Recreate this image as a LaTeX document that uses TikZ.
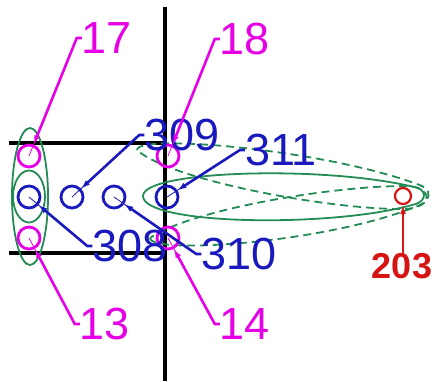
\documentclass[tikz,border=0pt]{standalone}
\usepackage{fontspec}
\setmainfont{Liberation Sans}
\usetikzlibrary{arrows.meta}
\definecolor{mag}{RGB}{230,0,230}
\definecolor{dblue}{RGB}{25,25,190}
\definecolor{leaf}{RGB}{35,140,85}
\definecolor{dred}{RGB}{215,20,20}

\begin{document}
\begin{tikzpicture}[x=1pt,y=1pt,>=Latex,
  spot/.style={draw=#1,circle,line width=2.8pt,minimum size=22pt,inner sep=0pt},
  numtxt/.style={text=#1,inner sep=0pt,font=\fontsize{45}{45}\selectfont},
  leader/.style={draw=#1,line width=2.6pt,-{Latex[length=9pt,width=6pt]}},
  leadtail/.style={draw=#1,line width=0.8pt},
  band/.style={draw=leaf,line width=1.8pt},
  wall/.style={draw=black,line width=4pt}]
\useasboundingbox (0,0) rectangle (435,381);
% black frame lines
\draw[wall] (165,374) -- (165,0);
\draw[wall] (9,238) -- (165,238);
\draw[wall] (9,128) -- (165,128);
% green groups
\draw[band] (30,184.5) ellipse [x radius=18,y radius=68.5];
\draw[band] (29,184.5) ellipse [x radius=16,y radius=26];
\draw[band] (143,185) .. controls (143,211) and (330,216) .. (418,193) .. controls (428,189) and (425,178) .. (412,176) .. controls (330,153) and (143,156) .. cycle;
\draw[band,dash pattern=on 8pt off 5pt] (137,231) .. controls (137,248) and (330,231) .. (422,195) .. controls (434,190) and (430,173) .. (405,172) .. controls (330,171) and (170,201) .. cycle;
\draw[band,dash pattern=on 8pt off 5pt] (150,143) .. controls (150,126) and (330,138) .. (420,176) .. controls (432,181) and (428,195) .. (405,195) .. controls (330,195) and (190,171) .. cycle;
% points
\node[spot=mag] (c17) at (29,225) {};
\node[spot=dblue] (c308) at (29,184) {};
\node[spot=mag] (c13) at (29,143) {};
\node[spot=dblue] (c309) at (72,184) {};
\node[spot=dblue] (c310) at (114,184) {};
\node[spot=dblue] (c311) at (167,184) {};
\node[spot=mag] (c18) at (168,225) {};
\node[spot=mag] (c14) at (168,143) {};
\node[draw=dred,circle,line width=2.2pt,minimum size=16pt,inner sep=0pt] (c203) at (403,185) {};
% labels
\node[numtxt=mag] (l17) at (107,343) {17};
\node[numtxt=mag] (l18) at (245,342) {18};
\node[numtxt=dblue] (l309) at (182,246) {309};
\node[numtxt=dblue] (l311) at (281,231) {311};
\node[numtxt=dblue] (l308) at (130,135) {308};
\node[numtxt=dblue] (l310) at (239,127) {310};
\node[numtxt=mag] (l13) at (105,57) {13};
\node[numtxt=mag] (l14) at (245,57) {14};
\node[text=dred,inner sep=0pt,font=\fontsize{36}{36}\selectfont\bfseries] (l203) at (402,115) {203};
% leaders
\draw[leader=mag] (l17.west) -- ++(-5,0) coordinate (h17) -- (c17);
\draw[leadtail=mag] (h17) -- (c17.center);
\draw[leader=mag] (l18.west) -- ++(-5,0) coordinate (h18) -- (c18);
\draw[leadtail=mag] (h18) -- (c18.center);
\draw[leader=mag] (l13.west) -- ++(-5,0) coordinate (h13) -- (c13);
\draw[leadtail=mag] (h13) -- (c13.center);
\draw[leader=mag] (l14.west) -- ++(-5,0) coordinate (h14) -- (c14);
\draw[leadtail=mag] (h14) -- (c14.center);
\draw[leader=dblue] (l309.west) -- ++(-5,0) coordinate (h309) -- (c309);
\draw[leadtail=dblue] (h309) -- (c309.center);
\draw[leader=dblue] (l311.west) -- ++(-5,0) coordinate (h311) -- (c311);
\draw[leadtail=dblue] (h311) -- (c311.center);
\draw[leader=dblue] (l308.west) -- ++(-5,0) coordinate (h308) -- (c308);
\draw[leadtail=dblue] (h308) -- (c308.center);
\draw[leader=dblue] (l310.west) -- ++(-5,0) coordinate (h310) -- (c310);
\draw[leadtail=dblue] (h310) -- (c310.center);
\draw[leader=dred,line width=2.2pt] (c203 |- l203.north) -- (c203);
\end{tikzpicture}
\end{document}
